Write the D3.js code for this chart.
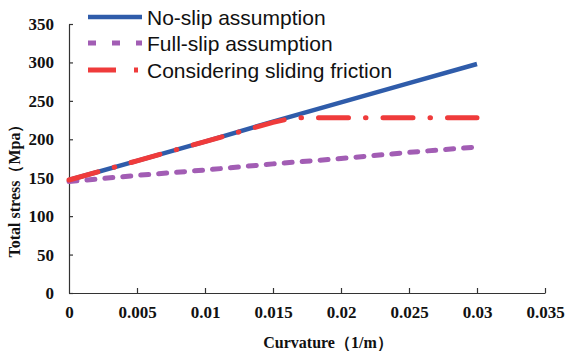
<!DOCTYPE html>
<html>
<head>
<meta charset="utf-8">
<script src="https://cdn.jsdelivr.net/npm/d3@7"></script>
<style>
  body { margin: 0; background: #fff; }
  svg { display: block; }
</style>
</head>
<body>
<svg id="chart" width="565" height="353"></svg>
<script>
// curvature (1/m) and total stress (MPa)
const noSlipX = [0, 0.005, 0.01, 0.015, 0.02, 0.025, 0.03]
const noSlipY = [147, 172, 197, 223, 248, 273, 298]
const fullSlipX = [0, 0.005, 0.01, 0.015, 0.02, 0.025, 0.03]
const fullSlipY = [145, 153, 160, 168, 175, 183, 190]
const frictionX = [0, 0.005, 0.01, 0.015, 0.0165, 0.02, 0.025, 0.03]
const frictionY = [147, 172, 197, 222, 228, 228, 228, 228]
const xTicks = [0, 0.005, 0.01, 0.015, 0.02, 0.025, 0.03, 0.035]
const yTicks = [0, 50, 100, 150, 200, 250, 300, 350]
const seriesNames = ['No-slip assumption', 'Full-slip assumption', 'Considering sliding friction']

const svg = d3.select('#chart')
const serif = '"Liberation Serif", "Times New Roman", serif'

const x = d3.scaleLinear().domain([0, 0.035]).range([69, 545])
const y = d3.scaleLinear().domain([0, 350]).range([293, 24])

const styles = [
  {color: '#2f5caa', width: 4.5, dash: null},
  {color: '#a25db4', width: 5, dash: '8,10'},
  {color: '#ef3b3b', width: 5, dash: '30,17,0.5,17'}
]

// axes
let yAxis = svg.append('g')
  .attr('transform', 'translate(' + x(0) + ',0)')
  .call(d3.axisLeft(y).tickValues(yTicks).tickSizeInner(-4).tickSizeOuter(0).tickPadding(15))
let xAxis = svg.append('g')
  .attr('transform', 'translate(0,' + y(0) + ')')
  .call(d3.axisBottom(x).tickValues(xTicks).tickFormat(d => d3.format('')(+d.toFixed(3))).tickSizeInner(-5).tickSizeOuter(0).tickPadding(13))

for (let a of [xAxis, yAxis]) {
  a.select('.domain').attr('stroke', '#333').attr('stroke-width', 1.2)
  a.selectAll('.tick line').attr('stroke', '#333').attr('stroke-width', 1.2)
  a.selectAll('.tick text')
    .attr('font-family', serif)
    .attr('font-weight', 'bold')
    .attr('font-size', 17)
    .attr('fill', '#111')
}
xAxis.select('.tick line').remove()

// axis titles
svg.append('text')
  .attr('x', 328)
  .attr('y', 348)
  .attr('text-anchor', 'middle')
  .attr('font-family', serif)
  .attr('font-weight', 'bold')
  .attr('font-size', 16)
  .attr('fill', '#111')
  .text('Curvature（1/m）')

svg.append('text')
  .attr('transform', 'translate(20,187) rotate(-90)')
  .attr('text-anchor', 'middle')
  .attr('font-family', serif)
  .attr('font-weight', 'bold')
  .attr('font-size', 16)
  .attr('fill', '#111')
  .text('Total stress（Mpa）')

// lines
const line = d3.line().x(d => x(d[0])).y(d => y(d[1]))
const series = [
  d3.zip(noSlipX, noSlipY),
  d3.zip(fullSlipX, fullSlipY),
  d3.zip(frictionX, frictionY)
]

series.forEach((s, i) => {
  svg.append('path')
    .datum(s)
    .attr('d', line)
    .attr('fill', 'none')
    .attr('stroke', styles[i].color)
    .attr('stroke-width', styles[i].width)
    .attr('stroke-linecap', i == 0 ? 'butt' : 'round')
    .attr('stroke-dasharray', styles[i].dash)
})

// legend
const legendY = [17, 43, 70]
seriesNames.forEach((name, i) => {
  svg.append('line')
    .attr('x1', 88)
    .attr('x2', 142)
    .attr('y1', legendY[i])
    .attr('y2', legendY[i])
    .attr('stroke', styles[i].color)
    .attr('stroke-width', styles[i].width)
    .attr('stroke-dasharray', i == 1 ? '8,16' : i == 2 ? '28,18,4,50' : null)
  svg.append('text')
    .attr('x', 147)
    .attr('y', legendY[i] + 8)
    .attr('font-family', '"Liberation Sans", Arial, sans-serif')
    .attr('font-size', 21)
    .attr('fill', '#111')
    .text(name)
})
</script>
</body>
</html>
